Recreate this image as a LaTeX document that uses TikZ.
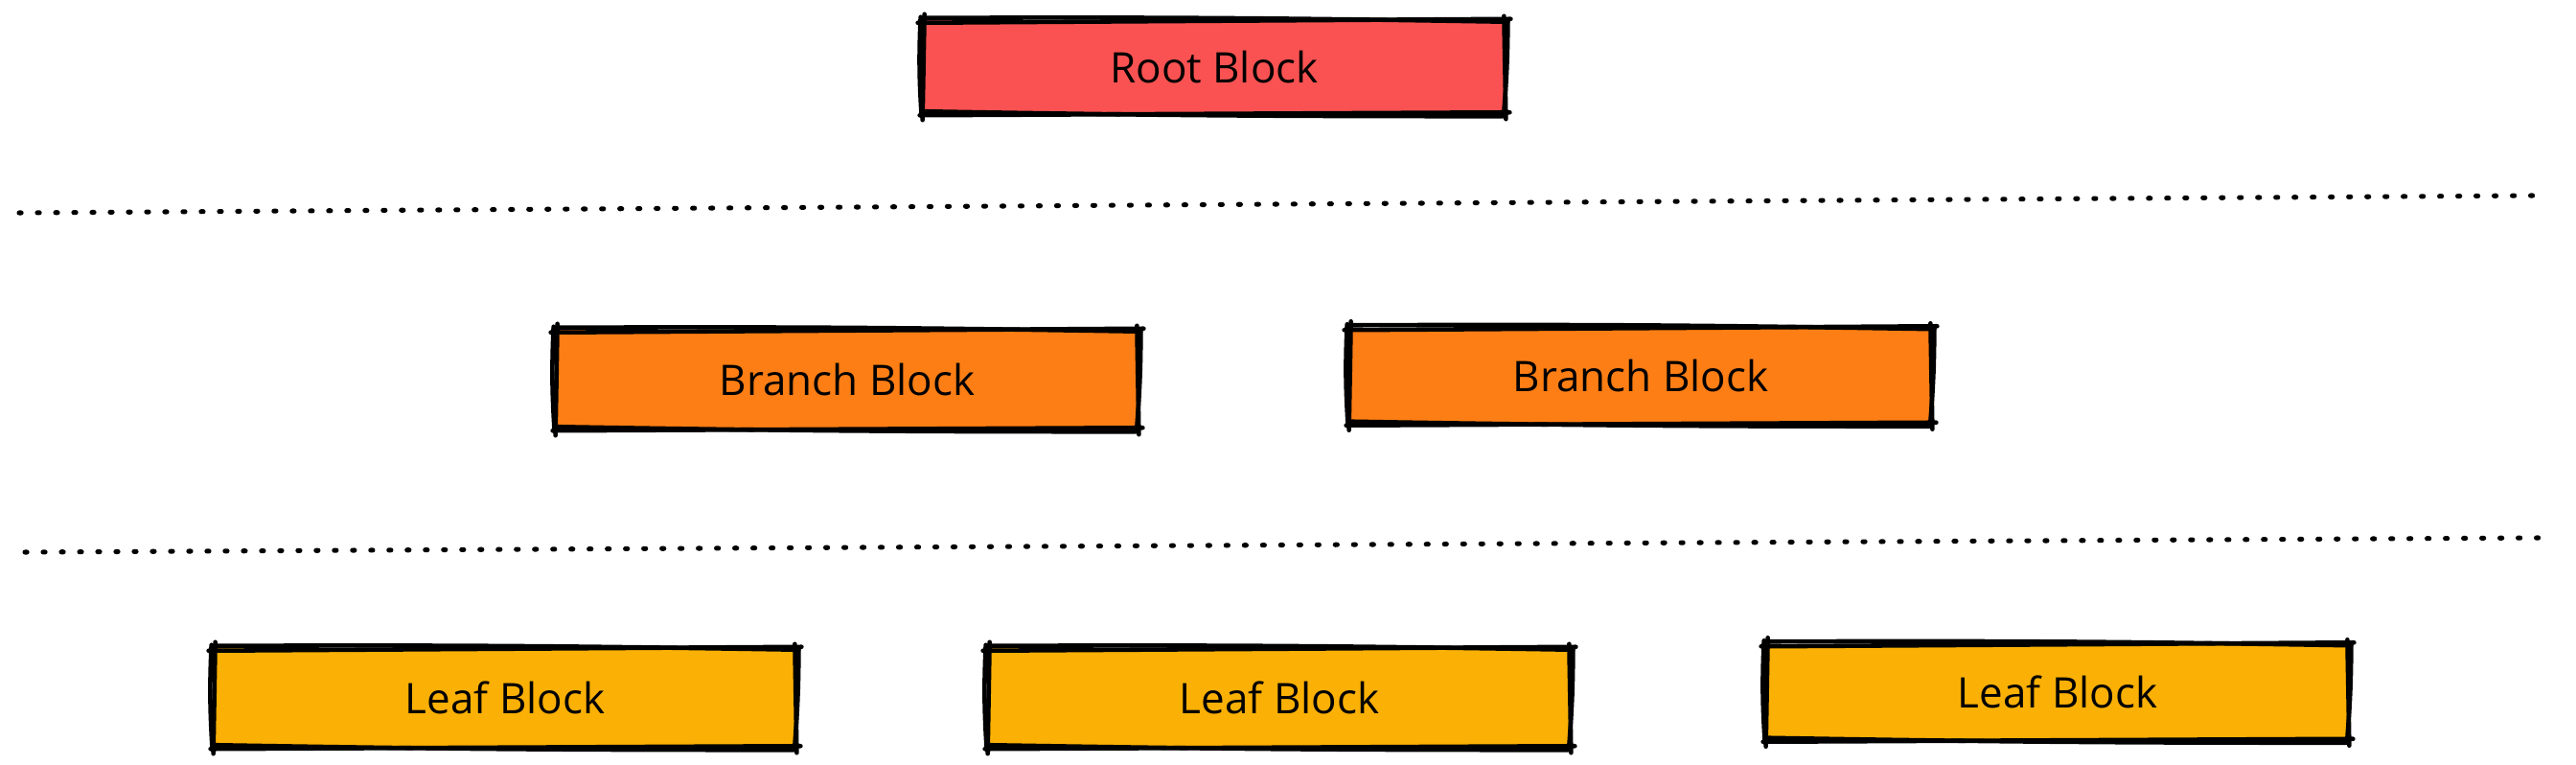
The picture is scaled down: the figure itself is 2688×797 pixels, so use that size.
\documentclass[tikz,border=0pt]{standalone}
\usepackage{fontspec}
\setmainfont{Open Sans}
\definecolor{rootc}{HTML}{FA5252}
\definecolor{branchc}{HTML}{FD7E14}
\definecolor{leafc}{HTML}{FAB005}
\tikzset{
  blockbox/.style={minimum width=6.05cm,minimum height=1.0cm,inner sep=0pt,
    font=\fontsize{12.5}{15}\selectfont, text=black},
  skline/.style={line width=1.3pt,black,line cap=round,line join=round},
  sepline/.style={line width=1.45pt,black,line cap=round,dash pattern=on 0.6pt off 4.8pt},
}
\newcommand\sk[1]{%
  \draw[skline] ([shift={(-6,3)}]#1.north west) -- ([shift={(6,-1)}]#1.north east);
  \draw[skline] ([shift={(-2,-2)}]#1.north west) to[bend left=0.6] ([shift={(3,2)}]#1.north east);
  \draw[skline] ([shift={(-4,1)}]#1.south west) -- ([shift={(5,-2)}]#1.south east);
  \draw[skline] ([shift={(2,-3)}]#1.south west) to[bend right=0.5] ([shift={(-2,2)}]#1.south east);
  \draw[skline] ([shift={(1,-6)}]#1.north west) -- ([shift={(-1,6)}]#1.south west);
  \draw[skline] ([shift={(-3,-3)}]#1.north west) to[bend right=3] ([shift={(-2,2)}]#1.south west);
  \draw[skline] ([shift={(-1,-4)}]#1.north east) -- ([shift={(1,5)}]#1.south east);
  \draw[skline] ([shift={(3,2)}]#1.north east) to[bend left=2] ([shift={(-1,-3)}]#1.south east);
}
\begin{document}
\begin{tikzpicture}[x=0.01cm,y=-0.01cm]
\useasboundingbox (0,0) rectangle (2688,797);
\node[blockbox,fill=rootc,minimum height=0.97cm] (root) at (1267,70) {Root Block};
\node[blockbox,fill=branchc,minimum height=1.03cm] (br1) at (884,396) {Branch Block};
\node[blockbox,fill=branchc,minimum height=1.0cm] (br2) at (1712,392) {Branch Block};
\node[blockbox,fill=leafc,minimum height=1.03cm] (lf1) at (527,728) {Leaf Block};
\node[blockbox,fill=leafc,minimum height=1.03cm] (lf2) at (1335,728) {Leaf Block};
\node[blockbox,fill=leafc,minimum height=1.0cm] (lf3) at (2147,722) {Leaf Block};
\sk{root}\sk{br1}\sk{br2}\sk{lf1}\sk{lf2}\sk{lf3}
\coordinate (s1a) at (20,222);
\coordinate (s1b) at (2646,204);
\coordinate (s2a) at (26,576);
\coordinate (s2b) at (2654,561);
\draw[sepline] (s1a) -- (s1b);
\draw[sepline] (s2a) -- (s2b);
\end{tikzpicture}
\end{document}
